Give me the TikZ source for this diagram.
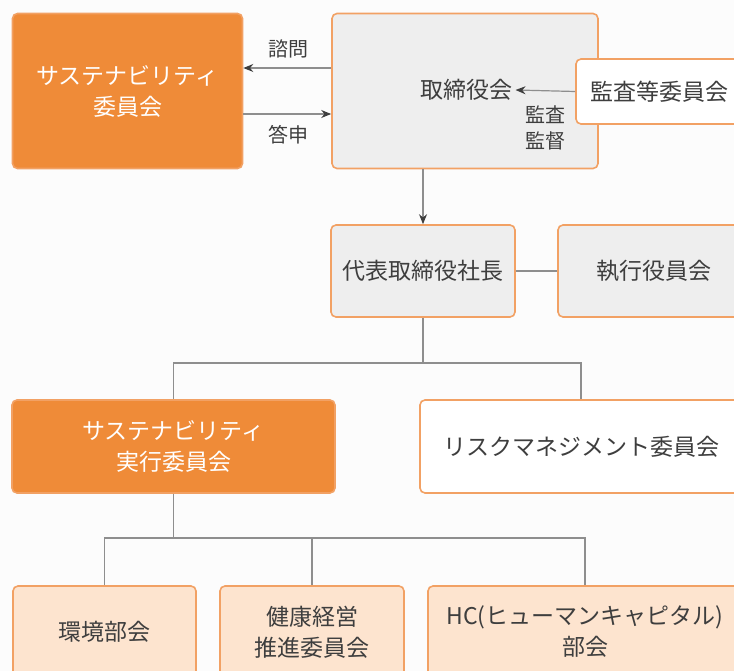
\documentclass[tikz,border=0pt]{standalone}
\usepackage{fontspec}
\newfontfamily\jp{Noto Sans CJK JP}
\usetikzlibrary{arrows.meta,positioning}
\definecolor{susorange}{HTML}{EF8B38}
\definecolor{edgeorange}{HTML}{F2A164}
\definecolor{boardgray}{HTML}{EEEEEE}
\definecolor{peach}{HTML}{FDE4CF}
\definecolor{textgray}{HTML}{3E3E3E}
\definecolor{linegray}{HTML}{8E8E8E}
\definecolor{paper}{HTML}{FCFCFC}

\begin{document}
\begin{tikzpicture}[x=1pt,y=-1pt,>={Stealth[length=10pt,width=8pt,color=textgray]}, text=textgray,
    font=\jp\fontsize{23}{31}\selectfont,
    box/.style={rectangle,rounded corners=5pt,draw=edgeorange,line width=1.6pt,inner sep=0pt,align=center},
    orangebox/.style={box,fill=susorange,text=white},
    graybox/.style={box,fill=boardgray},
    whitebox/.style={box,fill=white},
    peachbox/.style={box,fill=peach},
    link/.style={draw=linegray,line width=1.2pt},
    tag/.style={font=\jp\fontsize{20}{26}\selectfont,align=center}]
  \useasboundingbox (0,0) rectangle (734,671);
  \clip (0,0) rectangle (734,671);
  \fill[paper] (0,0) rectangle (734,671);
  % top row
  \node[orangebox,minimum width=230,minimum height=155] at (127.5,91) (suscom) {サステナビリティ\\委員会};
  \node[graybox,minimum width=266,minimum height=155] at (465,91) (board) {};
  \node at (466,90) (boardtext) {取締役会};
  \node[whitebox,minimum width=166,minimum height=65] at (659,91.5) (audit) {監査等委員会};
  \node[tag] at (288,49) (consult) {諮問};
  \node[tag] at (288,135) (report) {答申};
  \node[tag] at (545,128) (oversee) {監査\\監督};
  \draw[link,->] ([yshift=23pt]board.west) -- ([yshift=23pt]suscom.east);
  \draw[link,->] ([yshift=-23pt]suscom.east) -- ([yshift=-23pt]board.west);
  \draw[link,->] (audit.west) -- (boardtext.east);
  % executive row
  \node[graybox,minimum width=184,minimum height=92] at (423,271) (president) {代表取締役社長};
  \node[graybox,minimum width=192,minimum height=92] at (654,271) (exec) {執行役員会};
  \draw[link,->] (board.south -| president.north) -- (president.north);
  \draw[link] (president.east) -- (exec.west);
  % committees
  \node[orangebox,minimum width=323,minimum height=93] at (173.5,446.5) (execcom) {サステナビリティ\\実行委員会};
  \node[whitebox,minimum width=322,minimum height=93] at (581,446.5) (risk) {リスクマネジメント委員会};
  \coordinate (split) at (423,363);
  \draw[link] (president.south) -- (split);
  \draw[link] (split) -| (execcom.north);
  \draw[link] (split) -| (risk.north);
  % sub-committees
  \node[peachbox,minimum width=183,minimum height=92] at (104.5,632) (env) {環境部会};
  \node[peachbox,minimum width=184,minimum height=92] at (312,632) (health) {健康経営\\推進委員会};
  \node[peachbox,minimum width=314,minimum height=92] at (585,632) (hc) {HC(ヒューマンキャピタル)\\部会};
  \coordinate (subsplit) at (173.5,538);
  \draw[link] (execcom.south) -- (subsplit);
  \draw[link] (subsplit) -| (env.north);
  \draw[link] (subsplit) -| (health.north);
  \draw[link] (subsplit) -| (hc.north);
\end{tikzpicture}
\end{document}
